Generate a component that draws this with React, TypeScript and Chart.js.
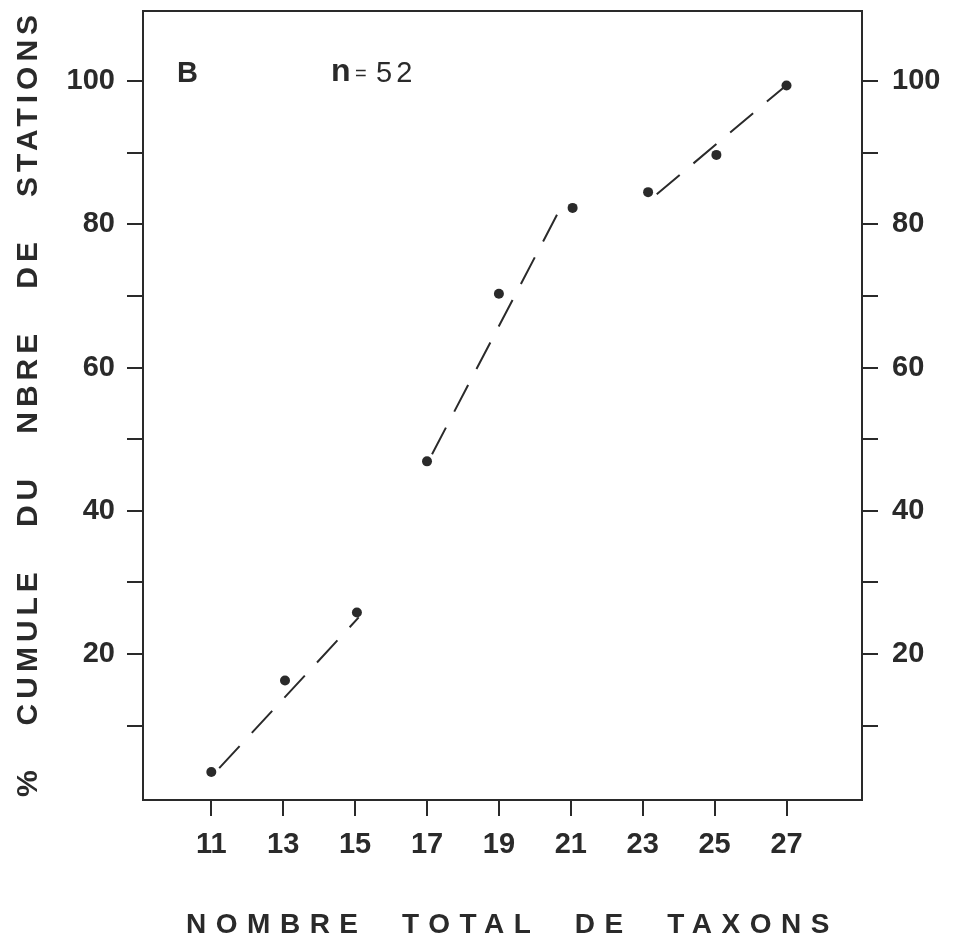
import React, { useEffect, useRef } from 'react';
import { Chart, registerables } from 'chart.js';

Chart.register(...registerables);

// ---- data ----
const xTickValues = [11, 13, 15, 17, 19, 21, 23, 25, 27];
const yTickValues = [10, 20, 30, 40, 50, 60, 70, 80, 90, 100];
const yLabelStep = 20;

const pointX = [11, 13.05, 15.05, 17, 19, 21.05, 23.15, 25.05, 27];
const pointY = [3.5, 16.3, 25.8, 46.9, 70.3, 82.3, 84.5, 89.7, 99.4];

const trend1X = [11.22, 15.1];
const trend1Y = [4.05, 25.1];
const trend2X = [17.14, 20.81];
const trend2Y = [47.9, 83.2];
const trend3X = [23.39, 26.94];
const trend3Y = [84.2, 99.2];

const xTitle = 'NOMBRE  TOTAL  DE  TAXONS';
const yTitle = '%   CUMULE   DU   NBRE   DE   STATIONS';
const panelLabel = 'B';
const nSymbol = 'n';
const nEquals = '=';
const nValue = '52';

const ink = '#2a2a2a';
const FONT = '"Liberation Sans", Arial, sans-serif';

const toPoints = (xs: number[], ys: number[]) => xs.map((x, i) => ({ x, y: ys[i] }));

const annotationsPlugin = {
  id: 'annotations',
  afterDraw(chart: any) {
    const { ctx, chartArea } = chart;
    ctx.save();
    ctx.fillStyle = ink;

    // x-axis title
    ctx.font = `bold 28px ${FONT}`;
    (ctx as any).letterSpacing = '9.5px';
    ctx.textAlign = 'center';
    ctx.textBaseline = 'alphabetic';
    ctx.fillText(xTitle, (chartArea.left + chartArea.right) / 2 + 10, 933);

    // y-axis title (rotated)
    ctx.save();
    ctx.translate(37, (chartArea.top + chartArea.bottom) / 2);
    ctx.rotate(-Math.PI / 2);
    ctx.font = `bold 30px ${FONT}`;
    (ctx as any).letterSpacing = '5px';
    ctx.textAlign = 'center';
    ctx.textBaseline = 'alphabetic';
    ctx.fillText(yTitle, 2, 0);
    ctx.restore();

    (ctx as any).letterSpacing = '0px';
    ctx.textAlign = 'left';
    ctx.textBaseline = 'alphabetic';

    // panel letter
    ctx.font = `bold 29px "Liberation Sans Narrow", ${FONT}`;
    ctx.fillText(panelLabel, chartArea.left + 34, 82);

    // n = 52
    ctx.font = `bold 32px ${FONT}`;
    ctx.fillText(nSymbol, chartArea.left + 188, 81);
    ctx.font = `20px ${FONT}`;
    ctx.fillText(nEquals, chartArea.left + 212, 80);
    ctx.font = `29px ${FONT}`;
    (ctx as any).letterSpacing = '4px';
    ctx.fillText(nValue, chartArea.left + 233, 82);

    ctx.restore();
  },
};

const tickFont = { family: FONT, size: 29, weight: 'bold' as const };

function yScale(position: 'left' | 'right', width: number, padding: number) {
  return {
    type: 'linear' as const,
    position,
    min: -0.4,
    max: 109.8,
    afterBuildTicks: (s: any) => {
      s.ticks = yTickValues.map((v) => ({ value: v }));
    },
    afterFit: (s: any) => {
      s.width = width;
      s.paddingTop = 0;
      s.paddingBottom = 0;
    },
    grid: {
      display: true,
      drawOnChartArea: false,
      drawTicks: true,
      tickLength: 16,
      color: ink,
      lineWidth: 2,
    },
    border: { display: true, color: ink, width: 2 },
    ticks: {
      color: ink,
      font: tickFont,
      padding,
      autoSkip: false,
      callback: (v: any) => (Number(v) % yLabelStep === 0 ? String(v) : ''),
    },
  };
}

export default function App() {
  const canvasRef = useRef<HTMLCanvasElement | null>(null);

  useEffect(() => {
    if (!canvasRef.current) return;
    const chart = new Chart(canvasRef.current, {
      type: 'scatter',
      data: {
        datasets: [
          {
            label: 'points',
            data: toPoints(pointX, pointY),
            pointRadius: 5,
            pointBackgroundColor: ink,
            pointBorderWidth: 0,
            showLine: false,
          },
          {
            label: 'trend1',
            data: toPoints(trend1X, trend1Y),
            showLine: true,
            borderColor: ink,
            borderWidth: 2,
            borderDash: [30, 18],
            pointRadius: 0,
            fill: false,
          },
          {
            label: 'trend2',
            data: toPoints(trend2X, trend2Y),
            showLine: true,
            borderColor: ink,
            borderWidth: 2,
            borderDash: [30, 18],
            pointRadius: 0,
            fill: false,
          },
          {
            label: 'trend3',
            data: toPoints(trend3X, trend3Y),
            showLine: true,
            borderColor: ink,
            borderWidth: 2,
            borderDash: [30, 18],
            pointRadius: 0,
            fill: false,
          },
        ],
      },
      options: {
        animation: false,
        responsive: false,
        devicePixelRatio: 1,
        layout: { padding: 0 },
        plugins: {
          legend: { display: false },
          tooltip: { enabled: false },
        },
        scales: {
          x: {
            type: 'linear',
            position: 'bottom',
            min: 9.1,
            max: 29.1,
            afterBuildTicks: (s: any) => {
              s.ticks = xTickValues.map((v) => ({ value: v }));
            },
            afterFit: (s: any) => {
              s.height = 139;
              s.paddingLeft = 0;
              s.paddingRight = 0;
            },
            grid: {
              display: true,
              drawOnChartArea: false,
              drawTicks: true,
              tickLength: 16,
              color: ink,
              lineWidth: 2,
            },
            border: { display: true, color: ink, width: 2 },
            ticks: {
              color: ink,
              font: tickFont,
              padding: 12,
              autoSkip: false,
              maxRotation: 0,
            },
          },
          xTop: {
            type: 'linear',
            position: 'top',
            min: 9.1,
            max: 29.1,
            afterBuildTicks: (s: any) => {
              s.ticks = [];
            },
            afterFit: (s: any) => {
              s.height = 11;
              s.paddingLeft = 0;
              s.paddingRight = 0;
            },
            grid: { display: false },
            border: { display: true, color: ink, width: 2 },
            ticks: { display: false },
          },
          y: yScale('left', 143, 12),
          y2: yScale('right', 99, 14),
        },
      } as any,
      plugins: [annotationsPlugin],
    });
    return () => chart.destroy();
  }, []);

  return (
    <div style={{ position: 'absolute', left: 0, top: 0, width: 961, height: 939, background: '#fff' }}>
      <canvas ref={canvasRef} width={961} height={939} style={{ display: 'block' }} />
    </div>
  );
}
